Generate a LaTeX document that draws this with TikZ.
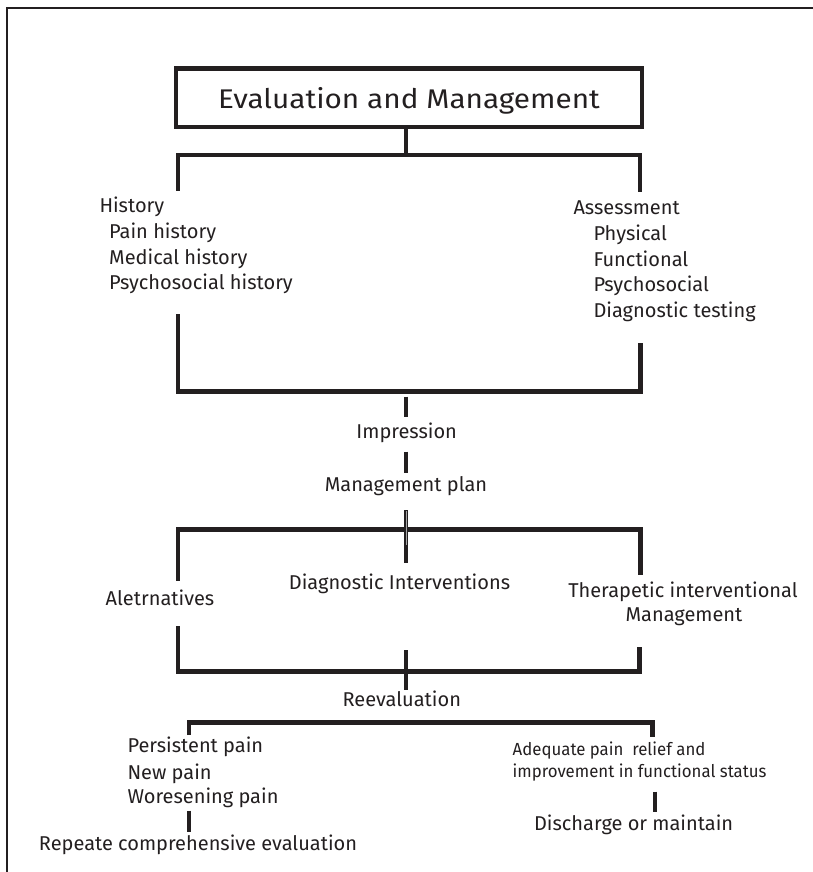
\documentclass[tikz,border=0pt]{standalone}
\usepackage{fontspec}
\setmainfont{Fira Sans}
\newfontfamily\narrowfont[FakeStretch=0.96]{Fira Sans}
\newfontfamily\widefont[FakeStretch=1.1]{Fira Sans}
\definecolor{ink}{HTML}{231F20}
\tikzset{
  frameline/.style={draw=ink, line width=2pt},
  branch/.style={draw=ink, line width=4.6pt, line join=miter, line cap=butt},
  titlebox/.style={draw=ink, line width=4.6pt, rectangle, inner sep=0pt,
    minimum width=466pt, minimum height=58.5pt, text height=27pt, text depth=5.9pt,
    font=\widefont\fontsize{27}{31}\selectfont, text=ink},
  txt/.style={inner sep=0pt, font=\fontsize{20}{24}\selectfont, text=ink},
  smalltxt/.style={inner sep=0pt, font=\narrowfont\fontsize{17.5}{21}\selectfont, text=ink},
}
\begin{document}
\begin{tikzpicture}[x=1pt, y=-1pt]
  \useasboundingbox (0,0) rectangle (813,872);
  % open frame: top and left edges only
  \draw[frameline] (7,872) -- (7,8) -- (813,8);

  % title
  \node[titlebox] (title) at (409,97.75) {Evaluation and Management};

  % first split: history / assessment
  \coordinate (s1) at (406,155);
  \coordinate (hTop) at (178,190.7);
  \coordinate (aTop) at (640,191.7);
  \draw[branch] (title.south -| s1) -- (s1);
  \draw[branch] (hTop) -- (hTop |- s1) -- (aTop |- s1) -- (aTop);

  \node[txt, anchor=base west] (hist)  at (99.3,212.7) {History};
  \node[txt, anchor=base west] (hist1) at (109,238.3) {Pain history};
  \node[txt, anchor=base west] (hist2) at (109,264)   {Medical history};
  \node[txt, anchor=base west] (hist3) at (109,289.3) {Psychosocial history};

  \node[txt, anchor=base west] (asse)  at (573.3,214)   {Assessment};
  \node[txt, anchor=base west] (asse1) at (593.3,240)   {Physical};
  \node[txt, anchor=base west] (asse2) at (593.3,266)   {Functional};
  \node[txt, anchor=base west] (asse3) at (593.3,291.7) {Psychosocial};
  \node[txt, anchor=base west] (asse4) at (593.3,317.7) {Diagnostic testing};

  % join back to impression
  \coordinate (j1) at (406,391.7);
  \coordinate (hBot) at (178,314);
  \coordinate (aBot) at (640.5,343.3);
  \draw[branch] (hBot) -- (hBot |- j1) -- (aBot |- j1) -- (aBot);

  \node[txt, anchor=base] (impr) at (406.7,438.3) {Impression};
  \node[txt, anchor=base] (plan) at (406,491) {Management plan};
  \draw[branch] (406,396.7) -- (406,416.7);
  \draw[branch] (406,451.7) -- (406,472.7);

  % second split: management options
  \coordinate (s2) at (406,529.2);
  \coordinate (altTop) at (178,580.7);
  \coordinate (therTop) at (640.5,575);
  \draw[branch] (altTop) -- (altTop |- s2) -- (therTop |- s2) -- (therTop);
  \draw[branch] (406,510) -- (406,562.7);
  \draw[draw=gray!70, line width=1pt] (406,511) -- (406,545);

  \node[txt, anchor=base] (alt)  at (160,605)    {Aletrnatives};
  \node[txt, anchor=base] (diag) at (399.5,589.3) {Diagnostic Interventions};
  \node[txt, anchor=base] (ther) at (683,597.3)  {Therapetic interventional};
  \node[txt, anchor=base] (ther2) at (684,621.7) {Management};

  % join back to reevaluation
  \coordinate (j2) at (406,671.2);
  \coordinate (altBot) at (178,626);
  \coordinate (therBot) at (639.5,647.3);
  \draw[branch] (altBot) -- (altBot |- j2) -- (therBot |- j2) -- (therBot);
  \draw[branch] (406,650) -- (406,690);

  \node[txt, anchor=base] (reev) at (401.8,706.7) {Reevaluation};

  % outcome split
  \coordinate (s3) at (189,722.2);
  \coordinate (badTop) at (189,735);
  \coordinate (goodTop) at (652.5,736.7);
  \draw[branch] (badTop) -- (s3) -- (goodTop |- s3) -- (goodTop);

  \node[txt, anchor=base west] (bad1) at (127.3,752.5) {Persistent pain};
  \node[txt, anchor=base west] (bad2) at (127.3,779.3) {New pain};
  \node[txt, anchor=base west] (bad3) at (127.3,803.3) {Woresening pain};
  \draw[branch] (189,810.7) -- (189,831.7);
  \node[txt, anchor=base] (repeat) at (198,850.7) {Repeate comprehensive evaluation};

  \node[smalltxt, anchor=base west] (good1) at (512.5,755.5) {Adequate pain\ \ relief and};
  \node[smalltxt, anchor=base west] (good2) at (512.5,777.3) {improvement in functional status};
  \draw[branch] (655,791.7) -- (655,811.7);
  \node[txt, anchor=base] (disc) at (633.6,830) {Discharge or maintain};
\end{tikzpicture}
\end{document}
